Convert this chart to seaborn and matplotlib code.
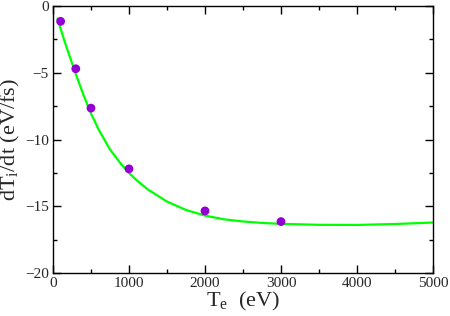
import matplotlib
matplotlib.use("Agg")
import matplotlib.pyplot as plt
import seaborn as sns
import pandas as pd
from matplotlib.ticker import MultipleLocator

# 模擬資料點 (紫色圓點)
te_points = [100, 300, 500, 1000, 2000, 3000]
dti_points = [-1.15, -4.7, -7.65, -12.2, -15.35, -16.15]

# 擬合曲線 (綠線)
te_fit = [60, 100, 150, 200, 300, 400, 500, 600, 750, 900, 1000, 1100, 1250,
          1500, 1750, 2000, 2250, 2500, 2750, 3000, 3500, 4000, 4500, 5000]
dti_fit = [-0.95, -1.7, -2.6, -3.45, -5.1, -6.65, -8.05, -9.25, -10.75, -11.87,
           -12.5, -13.05, -13.75, -14.65, -15.28, -15.7, -15.98, -16.14, -16.25,
           -16.32, -16.39, -16.4, -16.33, -16.22]

sns.set_style("ticks")
plt.rcParams["font.family"] = ["Liberation Serif", "DejaVu Serif"]
plt.rcParams["mathtext.fontset"] = "custom"
plt.rcParams["mathtext.rm"] = "Liberation Serif"
plt.rcParams["mathtext.it"] = "Liberation Serif:italic"

fig = plt.figure(figsize=(4.5, 3.16), dpi=100)
ax = fig.add_axes([53 / 450, 43 / 316, 380 / 450, 267 / 316])

df_fit = pd.DataFrame({"Te": te_fit, "dTi": dti_fit})
df_pts = pd.DataFrame({"Te": te_points, "dTi": dti_points})

sns.lineplot(data=df_fit, x="Te", y="dTi", color="#00ff00", linewidth=1.6, ax=ax)
sns.scatterplot(data=df_pts, x="Te", y="dTi", color="#9400d3", s=40,
                edgecolor="none", zorder=3, ax=ax)

ax.set_xlim(0, 5000)
ax.set_ylim(-20, 0)
ax.xaxis.set_major_locator(MultipleLocator(1000))
ax.xaxis.set_minor_locator(MultipleLocator(500))
ax.yaxis.set_major_locator(MultipleLocator(5))
ax.yaxis.set_minor_locator(MultipleLocator(2.5))
ax.tick_params(which="both", direction="in", top=True, right=True,
               labelsize=11, width=1, color="black", pad=3)
ax.tick_params(which="major", length=6)
ax.tick_params(which="minor", length=3)
for spine in ax.spines.values():
    spine.set_linewidth(1)
    spine.set_color("black")

ax.set_xlabel(r"T$_\mathrm{e}$  (eV)", fontsize=16, labelpad=0)
ax.set_ylabel(r"dT$_\mathrm{i}$/dt (eV/fs)", fontsize=16, labelpad=2)

fig.savefig("out.png", dpi=100)
